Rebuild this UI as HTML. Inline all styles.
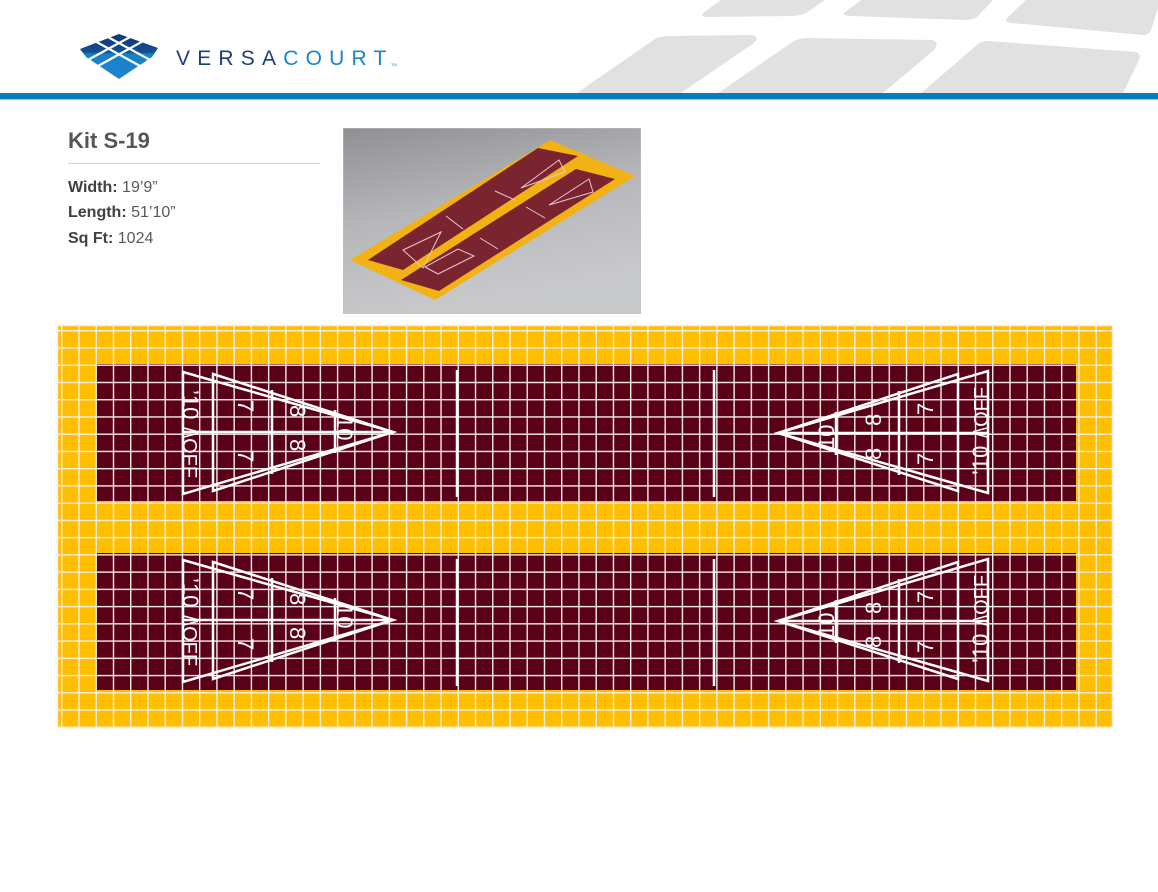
<!DOCTYPE html>
<html><head><meta charset="utf-8"><style>
body{margin:0;width:1158px;height:892px;background:#fff;overflow:hidden;position:relative;font-family:"Liberation Sans",sans-serif}
.t{position:absolute;left:68px;color:#58595b;font-size:16px}
.t b{color:#3f4042}
</style></head><body>
<svg width="1158" height="110" style="position:absolute;left:0;top:0">
<g fill="#e1e1e1">
<path d="M703,13 L721,0 L825,0 L806,13 Q798,16 791,16 L708,17 Q700,17 703,13Z"/>
<path d="M844,13 L861,0 L993,0 L978,16 Q974,20 966,20 L851,16 Q842,15 844,13Z"/>
<path d="M1007,18 L1026,0 L1158,0 L1158,8 L1151,30 Q1149,35 1143,35 L1012,23 Q1004,22 1007,18Z"/>
<path d="M577,93 L652,41 Q658,36 668,36 L752,35 Q760,37 754,43 L681,93Z"/>
<path d="M718,93 L794,41 Q800,38 808,38 L932,40 Q940,42 934,50 L883,93Z"/>
<path d="M921,93 L977,45 Q980,41 988,41 L1136,52 Q1142,54 1139,60 L1123,93Z"/>
</g>
<rect x="0" y="93" width="1158" height="6" fill="#087cc2"/>
<rect x="0" y="99" width="1158" height="1" fill="#8ec3e6"/>
<defs><linearGradient id="lg" x1="0" y1="0" x2="0" y2="1"><stop offset="0" stop-color="#0f3577"/><stop offset="0.4" stop-color="#14508f"/><stop offset="0.45" stop-color="#1a80c6"/><stop offset="1" stop-color="#1b86cf"/></linearGradient></defs>
<polygon points="119,34 158,48 152,57 119,79 86,57 80,49" fill="url(#lg)"/>
<g stroke="#fff" stroke-width="2.2">
<path d="M93,40 L140,66 M106,36 L152,61 M145,40 L98,66 M132,36 L86,61"/>
</g>
<text x="176" y="65" font-family="Liberation Sans" font-size="21" letter-spacing="7.2" fill="#1b3f7a">VERSA<tspan fill="#1a85cc">COURT</tspan></text>
<text x="391" y="66" font-size="4" fill="#1a85cc">TM</text>
</svg>
<div style="position:absolute;left:68px;top:128px;font-size:22px;font-weight:bold;color:#55565a">Kit S-19</div>
<div style="position:absolute;left:68px;top:163px;width:252px;height:1px;background:#cfcfcf"></div>
<div class="t" style="top:179px"><b>Width:</b> 19’9”</div>
<div class="t" style="top:204px"><b>Length:</b> 51’10”</div>
<div class="t" style="top:230px"><b>Sq Ft:</b> 1024</div>
<svg width="298" height="186" style="position:absolute;left:343px;top:128px">
<defs><linearGradient id="g" x1="0" y1="0" x2="0.3" y2="1"><stop offset="0" stop-color="#8f9094"/><stop offset="0.5" stop-color="#b6b7ba"/><stop offset="1" stop-color="#c9cacc"/></linearGradient></defs>
<rect width="298" height="186" fill="url(#g)" stroke="#c0c0c0"/>
<polygon points="7,132 207,12 292,48 92,172" fill="#f2b213"/>
<polygon points="25,132 195,20 235,28 60,142" fill="#7a2430"/>
<polygon points="58,152 233,41 272,51 96,163" fill="#7a2430"/>
<g stroke="#e6c8cc" stroke-width="1" fill="none">
<path d="M60,122 L98,104 L80,140Z M82,139 L95,146 L131,128 L115,121Z M178,60 L216,32 L222,44Z M206,77 L246,51 L250,64Z"/>
<path d="M103,88 L120,101 M152,63 L172,72 M137,110 L155,121 M183,79 L202,90"/>
</g>
</svg>
<svg width="1158" height="420" viewBox="0 320 1158 420" style="position:absolute;left:0;top:320px">
<defs>
<pattern id="p" x="61.06" y="330.06" width="17.24" height="17.24" patternUnits="userSpaceOnUse">
<rect x="0" y="0" width="17.24" height="1.4" fill="#f3eee8"/>
<rect x="0" y="0" width="1.4" height="17.24" fill="#f3eee8"/>
</pattern>
<g id="tri">
<g stroke="#fff" stroke-width="2.5" fill="none">
<path d="M183,372 L393,432 L183,494Z"/>
<path d="M213,374 L393,432 L213,491Z"/>
<path d="M183,432 L393,432"/>
<path d="M272,390 L272,474"/>
<path d="M335,410 L335,453"/>
</g>
<g fill="#fff" font-size="22" font-family="Liberation Sans">
<text transform="translate(183,390) rotate(90)">’10</text>
<text transform="translate(183,427) rotate(90)" font-size="20">/\OFF</text>
<text transform="translate(238,400) rotate(90)">7</text>
<text transform="translate(238,450) rotate(90)">7</text>
<text transform="translate(290,405) rotate(90)">8</text>
<text transform="translate(290,439) rotate(90)">8</text>
<text transform="translate(337,416) rotate(90)">10</text>
</g>
</g>
</defs>
<rect x="57" y="325" width="1056" height="403" fill="#ffbf00"/>
<rect x="96" y="364" width="980" height="137" fill="#5a0018"/>
<rect x="96" y="553" width="980" height="137" fill="#5a0018"/>
<rect x="57" y="325" width="1056" height="403" fill="url(#p)"/>
<rect x="57.5" y="325.5" width="1055" height="402" fill="none" stroke="#f3eee8" stroke-width="1.5"/>
<g stroke="#fff" stroke-width="2.5">
<path d="M457,370 V497 M714,370 V497 M457,559 V686 M714,559 V686"/>
</g>
<g id="half">
<use href="#tri"/>
<use href="#tri" transform="rotate(180,585.5,432.5)"/>
</g>
<use href="#half" transform="translate(0,188)"/>
</svg>
</body></html>
